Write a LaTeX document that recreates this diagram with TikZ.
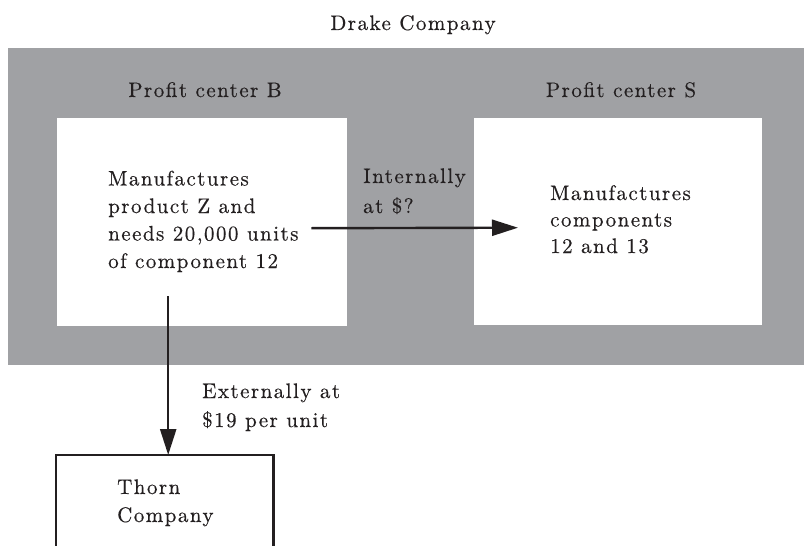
\documentclass[tikz,border=0pt]{standalone}
\usepackage{fontspec}
\setmainfont{lmroman10-regular}[Extension=.otf, LetterSpace=7, FakeBold=0.4]
\usepackage{tikz}
\usetikzlibrary{arrows.meta, positioning}

\definecolor{drakegray}{HTML}{A0A1A4}
\definecolor{inkblack}{HTML}{231F20}

\begin{document}
\begin{tikzpicture}[
    x=1pt, y=-1pt,
    firmbox/.style={fill=drakegray, inner sep=0pt, minimum width=796pt, minimum height=317pt},
    centerbox/.style={fill=white, inner sep=0pt, minimum width=290pt, minimum height=208pt},
    outsidebox/.style={inner sep=0pt, minimum width=217pt, minimum height=91pt},
    boxline/.style={draw=inkblack, line width=2.2pt},
    lbl/.style={inner sep=0pt, align=left, text=inkblack, font=\fontsize{21}{27.5}\selectfont},
    flowarr/.style={-{Triangle[length=26pt, width=16pt]}, line width=2.4pt, color=inkblack}
]
\useasboundingbox (0,0) rectangle (804,546);
% Drake Company and its two profit centers
\node[firmbox, anchor=north west] (drake) at (8,48) {};
\node[centerbox, anchor=north west] (pcB) at (57,118) {};
\node[centerbox, anchor=north west, minimum width=288pt, minimum height=207pt] (pcS) at (474,118) {};
\node[lbl, anchor=base] (drakeT) at (413,30) {Drake Company};
\node[lbl, anchor=base] (pcBT) at (205,97) {Profit center B};
\node[lbl, anchor=base] (pcST) at (621,97) {Profit center S};
% multi-line labels: base is the last line
\node[lbl, anchor=base west] (pcBtxt) at (108,268) {Manufactures\\product Z and\\needs 20,000 units\\of component 12};
\node[lbl, anchor=base west, font=\fontsize{21}{26.5}\selectfont] (pcStxt) at (550,253) {Manufactures\\components\\12 and 13};
\node[lbl, anchor=base west, font=\fontsize{21}{30}\selectfont] (intT) at (363,213) {Internally\\at \$?};
% outside supplier, open at the bottom
\node[outsidebox, anchor=north west] (thorn) at (56,455) {};
\draw[boxline] (thorn.south west) -- (thorn.north west) -- (thorn.north east) -- (thorn.south east);
\node[lbl, anchor=base west, font=\fontsize{21}{28}\selectfont] (thornT) at (117,522) {Thorn\\Company};
\node[lbl, anchor=base west, font=\fontsize{21}{29}\selectfont] (extT) at (202,427) {Externally at\\\$19 per unit};
% transfers
\draw[flowarr] ([shift={(-36,6)}]pcB.east) -- ([shift={(44,6)}]pcS.west);
\draw[flowarr] ([shift={(-34,-30)}]pcB.south) -- ([xshift=3.5pt]thorn.north);
\end{tikzpicture}
\end{document}
